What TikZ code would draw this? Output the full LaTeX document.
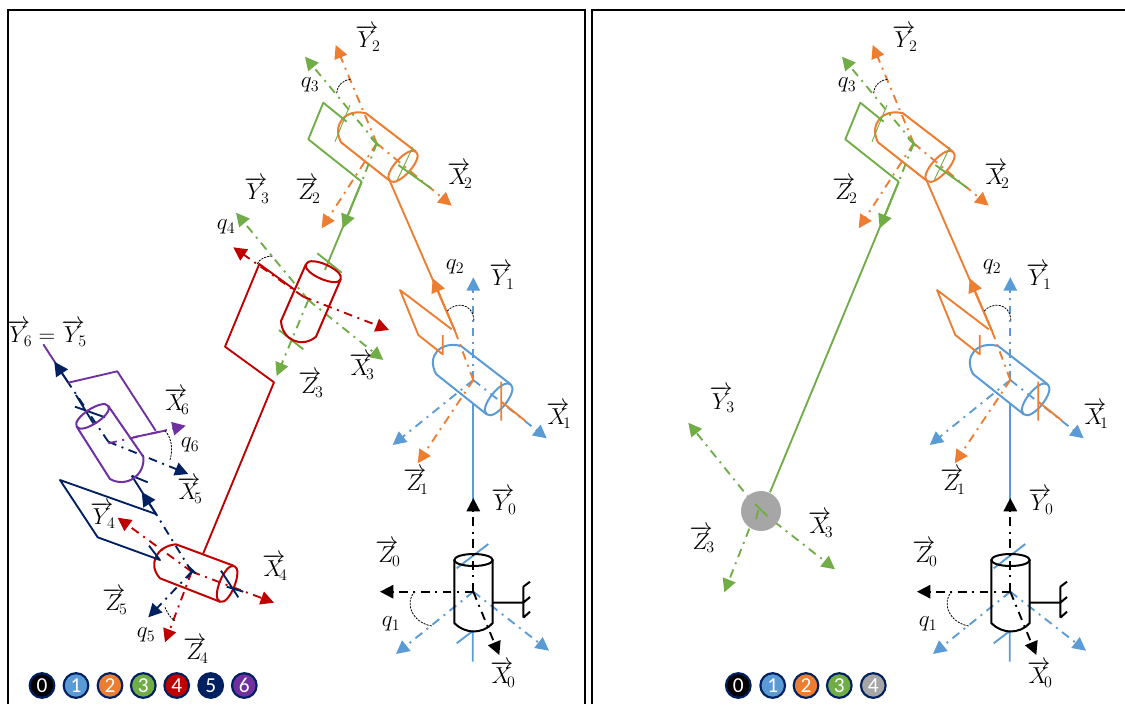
\documentclass[tikz,border=0pt]{standalone}
\usepackage{fontspec}
\newfontfamily\numfont{Carlito}
\usetikzlibrary{arrows.meta,calc}
\definecolor{cblue}{HTML}{5B9BD5}
\definecolor{corange}{HTML}{ED7D31}
\definecolor{cgreen}{HTML}{70AD47}
\definecolor{cred}{HTML}{C00000}
\definecolor{cnavy}{HTML}{002060}
\definecolor{cpurple}{HTML}{7030A0}
\definecolor{cgrey}{HTML}{A6A6A6}
\tikzset{
  axisline/.style={line width=1.4pt,dash pattern=on 6.5pt off 4.2pt on 1.5pt off 4.2pt,-{Triangle[length=10pt,width=10pt]}},
  solidline/.style={line width=1.4pt},
  thinline/.style={line width=.7pt},
  anglearc/.style={line width=.6pt,black,dash pattern=on 1.6pt off .8pt},
  midtip/.style={-{Triangle[length=10.5pt,width=10.5pt]},line width=1.4pt},
  lab/.style={inner sep=0pt,font=\fontsize{18}{20}\selectfont},
  badge/.style={circle,draw=cnavy,line width=1.6pt,minimum size=18.5pt,inner sep=0pt,text=white,font=\numfont\fontsize{16}{16}\selectfont},
  panel/.style={line width=1.5pt,black}
}
% colour; A B (open end); C D (ellipse end); cap factor; ellipse factor
\newcommand\cyl[7]{%
  \draw[#1,line width=1.5pt,line join=round]
    (#4) -- (#2) .. controls ($(#2)!.22!(#3) + #6*(#2) - #6*(#4)$) and ($(#3)!.22!(#2) + #6*(#3) - #6*(#5)$) .. (#3) -- (#5);
  \draw[#1,line width=1.5pt]
    (#4) .. controls ($(#4)!-#7!(#2)$) and ($(#5)!-#7!(#3)$) .. (#5)
         .. controls ($(#5)!#7!(#3)$) and ($(#4)!#7!(#2)$) .. (#4);
}
\newcommand\vlab[4]{\node[lab] (#1) at (#2) {$\overrightarrow{#3}\mkern-5mu{}_{#4}$};}
\newcommand\qlab[3]{\node[lab] (#1) at (#2) {$q_{#3}$};}
% frames 0,1,2 and the green joint, common to both panels
\newcommand\sharedarm[1]{%
  % frame 0
  \draw[axisline,cblue] (473.3,591.7) -- (396,654);
  \draw[axisline,cblue] (473.3,591.7) -- (549,650.7);
  \draw[solidline,cblue] (473.3,402.7) -- (473.3,500);
  \draw[solidline,cblue] (456.7,568.3) -- (488.3,544);
  \draw[solidline,cblue] (456.7,643.3) -- (472.7,631) (472.7,631) -- (472.7,661.7);
  \draw[axisline,black] (473.3,591.7) -- (473.3,498);
  \draw[axisline,black] (473.3,591.7) -- (380,591.7);
  \draw[axisline,black] (473.3,591.7) -- (499.3,655);
  \draw[black,line width=1.5pt] (454.3,560) -- (454.3,623) .. controls (460,629) and (468,631.5) .. (473.3,631.5) .. controls (480,631.5) and (488,629) .. (492.7,623) -- (492.7,560);
  \draw[black,line width=1.5pt] (473.5,560) ellipse [x radius=19.2,y radius=6];
  \draw[black,line width=1.5pt] (492.7,602.7) -- (523.3,602.7) (523.3,586.7) -- (523.3,617.7)
     (523.3,586.7) -- (530,581.7) (523.3,602.7) -- (530,597) (523.3,617.7) -- (530,611.7);
  \draw[anglearc] (415,591.7) .. controls (405,600) and (410,622) .. (431.7,626);
  % frame 1
  \draw[axisline,cblue] (473.3,380) -- (473.3,277.3);
  \draw[axisline,cblue] (473.3,380) -- (546.7,438.3);
  \draw[axisline,cblue] (473.3,380) -- (392.7,445);
  \cyl{cblue}{461,346}{436,374}{510.7,384.3}{486.7,414.3}{.3}{.17}
  % frame 2 on frame 1
  \draw[axisline,corange,-] (473.3,380) -- (455,331);
  \draw[axisline,corange] (473.3,380) -- (417.7,463.3);
  \draw[solidline,corange] (455,331) -- (390,181.5);
  \draw[midtip,corange] (455,331) -- (432.7,278.3);
  \draw[solidline,corange,line join=round] (451.7,329.3) -- (400,290) -- (418.3,335) -- (442.7,354.3) -- (442.7,335);
  \draw[solidline,corange] (501.3,381.7) -- (501.3,420.7) (501.3,401.7) -- (525,420.7);
  \draw[anglearc] (447.3,311) .. controls (455,302) and (473,302) .. (474,321);
  % frame 2
  \draw[axisline,corange] (376.7,143.3) -- (335.7,45);
  \draw[axisline,corange] (376.7,143.3) -- (451.7,205.7);
  \draw[axisline,corange] (376.7,143.3) -- (321.7,228.3);
  \cyl{corange}{366,113.3}{341,142.3}{416,151.7}{390,181}{.3}{.17}
  % frame 3 on frame 2
  \draw[axisline,cgreen] (376.7,143.3) -- (305,56.7);
  \draw[axisline,cgreen,-] (376.7,143.3) -- (361.7,181.7);
  \draw[solidline,cgreen] (398.3,165) -- (431,188.3);
  \draw[solidline,cgreen,line join=round] (346.7,121.7) -- (323.3,102.7) -- (308.3,139.3) -- (361.7,181.7);
  \draw[thinline,cgreen] (350,105) -- (335,141.7) (412.7,147.3) -- (397.3,180);
  \draw[solidline,cgreen] (371,138) -- (379,146) (376.7,143.3) -- (373.5,151);
  \draw[midtip,cgreen] (361.7,181.7) -- (342.7,228.3);
  \draw[anglearc] (336.7,93.3) .. controls (337,85) and (344,79.5) .. (350.7,79.3);
  % labels
  \vlab{#1Y2}{368,38}{Y}{2}
  \qlab{#1q3}{310,85}{3}
  \vlab{#1X2}{460,175}{X}{2}
  \vlab{#1Z2}{308,190}{Z}{2}
  \qlab{#1q2}{455,267}{2}
  \vlab{#1Y1}{502,276}{Y}{1}
  \vlab{#1X1}{559,415}{X}{1}
  \vlab{#1Z1}{416,481}{Z}{1}
  \vlab{#1Y0}{504,501}{Y}{0}
  \vlab{#1Z0}{388,553}{Z}{0}
  \qlab{#1q1}{391,624}{1}
  \vlab{#1X0}{503,674}{X}{0}
}
\begin{document}
\begin{tikzpicture}[x=.75pt,y=-.75pt]
\useasboundingbox (0,0) rectangle (1125,704);
% panels
\draw[panel] (8,704) -- (8,9.5) -- (585,9.5) -- (585,704);
\draw[panel] (592,704) -- (592,9.5) -- (1125,9.5);
% ----- left panel
\begin{scope}
  \sharedarm{l}
\end{scope}
\draw[solidline,cgreen] (361.7,181.7) -- (325,270);
% frame 3
\draw[axisline,cgreen] (308.3,300) -- (236,212.7);
\draw[axisline,cgreen] (308.3,300) -- (383.3,360);
\draw[axisline,cgreen] (308.3,300) -- (276.7,376);
\draw[solidline,cgreen] (317.3,253.3) -- (341.7,272.7) (279,330) -- (303.3,349.3);
\draw[axisline,cred] (303.3,296.7) -- (233.3,247.3);
\draw[axisline,cred] (303.3,296.7) -- (389,330);
\cyl{cred}{281,321}{316,336.7}{306,264}{340.7,279.3}{.27}{.16}
\draw[solidline,cred,line join=round] (295,290) -- (259.3,264) -- (225,346.7) -- (274,382.3) -- (203,554);
\draw[anglearc] (257.3,264) .. controls (259,259) and (266,256) .. (272.7,256);
% frame 4
\draw[axisline,cred] (191.7,571.7) -- (117.7,517.7);
\draw[axisline,cred] (191.7,571.7) -- (274,602.7);
\draw[axisline,cred] (191.7,571.7) -- (165,642.3);
\cyl{cred}{176,544.3}{160,578.3}{234.3,566}{220,601.7}{.27}{.16}
% frame 5 on frame 4
\draw[axisline,cnavy,-] (191.7,571.7) -- (156.7,515);
\draw[axisline,cnavy] (191.7,571.7) -- (148.3,617.3);
\draw[solidline,cnavy,line join=round] (156.7,514.3) -- (60,480) -- (97.7,537.3) -- (160,560) -- (149,545.7);
\draw[solidline,cnavy] (221,570.7) -- (238.3,597.3) (226.7,586.7) -- (243.3,591.7);
\draw[solidline,cnavy] (189,567) -- (196,573.5) (187,578) -- (193.5,570);
\draw[solidline,cnavy] (156.7,515) -- (131.7,475.7) (131.7,475.7) -- (147.7,482.3);
\draw[midtip,cnavy] (156.7,515) -- (141.7,492);
\draw[anglearc] (165,607.3) .. controls (167,612) and (170,618) .. (175,620.7);
% frame 5
\draw[axisline,cnavy,-] (108.3,441.7) -- (68.3,382.7);
\draw[axisline,cnavy] (108.3,441.7) -- (188.3,474);
\draw[solidline,cnavy] (75,406.7) -- (105,417.3) (76,395) -- (93.3,423.3);
\draw[solidline,cpurple] (68.3,382.7) -- (43.3,344.3);
\draw[midtip,cnavy] (68.3,382.7) -- (54.3,361.7);
% frame 6
\draw[axisline,cpurple] (108.3,443.3) -- (185.7,425.7);
\draw[solidline,cpurple] (133.3,437.3) -- (165,430.7);
\cyl{cpurple}{110,479}{143.3,456.7}{76.7,426.7}{108.3,406}{.27}{.16}
\draw[solidline,cpurple,line join=round] (68.3,382.7) -- (117.3,371.3) -- (155.7,430.7);
\draw[anglearc] (165,430.7) .. controls (172,438) and (173,450) .. (170,460);
% left labels
\vlab{lY3}{257,190}{Y}{3}
\qlab{lq4}{226,227}{4}
\vlab{lZ3}{311,384}{Z}{3}
\vlab{lX3}{362,366}{X}{3}
\node[lab] (lY65) at (47,333) {$\overrightarrow{Y}\mkern-5mu{}_{6}=\overrightarrow{Y}\mkern-5mu{}_{5}$};
\vlab{lX6}{177,401}{X}{6}
\qlab{lq6}{190,445}{6}
\vlab{lX5}{190,490}{X}{5}
\vlab{lY4}{103,515}{Y}{4}
\vlab{lX4}{275,567}{X}{4}
\vlab{lZ5}{115,601}{Z}{5}
\qlab{lq5}{146,635}{5}
\vlab{lZ4}{196,650}{Z}{4}
% left legend
\node[badge,fill=black] (la0) at (42,685.5) {0};
\node[badge,fill=cblue] (la1) at (76,685.5) {1};
\node[badge,fill=corange] (la2) at (110,685.5) {2};
\node[badge,fill=cgreen] (la3) at (143.3,685.5) {3};
\node[badge,fill=cred] (la4) at (176.7,685.5) {4};
\node[badge,fill=cnavy] (la5) at (210.7,685.5) {5};
\node[badge,fill=cpurple] (la6) at (244.3,685.5) {6};
% ----- right panel
\begin{scope}[shift={(537,0)}]
  \sharedarm{r}
\end{scope}
\draw[solidline,cgreen] (898.7,181.7) -- (770,492.3);
\draw[axisline,cgreen] (757.3,508.3) -- (688.3,422.7);
\draw[axisline,cgreen] (757.3,508.3) -- (835,569.3);
\draw[axisline,cgreen] (757.3,508.3) -- (724.3,592.3);
\node[circle,fill=cgrey,minimum size=30pt,inner sep=0pt] (rball) at (761,511) {};
\draw[solidline,cgreen] (755,504) -- (767.3,516) (758.3,510) -- (756,519.3);
\vlab{rY3}{722.3,399.3}{Y}{3}
\vlab{rX3}{820.7,524}{X}{3}
\vlab{rZ3}{702.3,539.3}{Z}{3}
\node[badge,fill=black] (ra0) at (738.3,685.5) {0};
\node[badge,fill=cblue] (ra1) at (772.7,685.5) {1};
\node[badge,fill=corange] (ra2) at (806,685.5) {2};
\node[badge,fill=cgreen] (ra3) at (839.3,685.5) {3};
\node[badge,fill=cgrey] (ra4) at (873.3,685.5) {4};
\end{tikzpicture}
\end{document}
